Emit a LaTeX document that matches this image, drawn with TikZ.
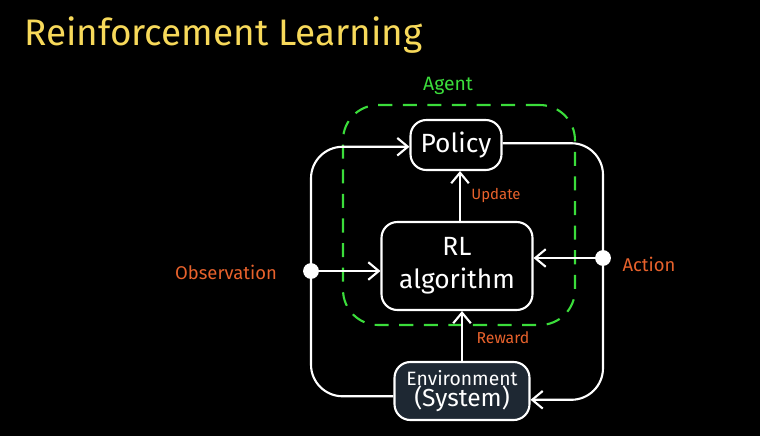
\documentclass[tikz,border=0pt]{standalone}
\usepackage{fontspec}
\setmainfont{Fira Sans}
\usepackage{xcolor}
\usetikzlibrary{arrows.meta,positioning,calc}
\definecolor{titleyellow}{HTML}{F7D95A}
\definecolor{agentgreen}{HTML}{3BDD3B}
\definecolor{labelorange}{HTML}{E8622C}
\definecolor{envfill}{HTML}{1E2833}

\begin{document}
\begin{tikzpicture}[
    x=0.02cm, y=-0.02cm,
    block/.style={draw=white,line width=1.2pt,rounded corners=9pt,text=white,align=center,inner sep=2pt},
    wire/.style={draw=white,line width=1.2pt,rounded corners=18pt},
    dot/.style={circle,fill=white,minimum size=9pt,inner sep=0pt},
    sig/.style={text=labelorange},
    >={Straight Barb[length=6pt,width=10pt,line width=1.2pt]}]
    \fill[black] (0,0) rectangle (760,436);
    \useasboundingbox (0,0) rectangle (760,436);
    \node[anchor=base west,text=titleyellow,font=\fontsize{21}{25}\selectfont] (title) at (18,45) {Reinforcement Learning};
    % agent
    \node[draw=agentgreen,dashed,dash pattern=on 8pt off 6pt,line width=1.2pt,rounded corners=20pt,
          minimum width=4.64cm,minimum height=4.4cm] (agent) at (459,215) {};
    \node[text=agentgreen,font=\fontsize{11}{13}\selectfont] (agentlbl) at (448,86) {Agent};
    % blocks
    \node[block,minimum width=1.82cm,minimum height=1.0cm,font=\fontsize{15}{18}\selectfont] (policy) at (456,145) {Policy};
    \node[block,minimum width=3.02cm,minimum height=1.76cm,font=\fontsize{15}{19}\selectfont] (algo) at (457,266) {RL\\algorithm};
    \node[block,fill=envfill,minimum width=2.7cm,minimum height=1.16cm] (env) at (462,391)
      {{\fontsize{11}{15}\selectfont Environment}\\{\fontsize{14}{16}\selectfont (System)}};
    \coordinate (obsdot) at (311,271);
    \coordinate (actdot) at (603,258);
    % loops
    \draw[wire,->] ([yshift=-3pt]env.west) -| (obsdot) |- ([yshift=-1pt]policy.west);
    \draw[wire,->] ([yshift=1pt]policy.east) -| (actdot) |- ([yshift=-5pt]env.east);
    \draw[wire,->] (obsdot) -- (obsdot -| algo.west);
    \draw[wire,->] (actdot) -- (actdot -| algo.east);
    \draw[wire,->] (algo.north -| 460,0) -- (policy.south -| 460,0);
    \draw[wire,->] (env.north) -- (algo.south -| env.north);
    \node[dot] at (obsdot) {};
    \node[dot] at (actdot) {};
    % labels
    \node[sig,font=\fontsize{10.5}{12}\selectfont] (obs) at (226,272) {Observation};
    \node[sig,font=\fontsize{10.5}{12}\selectfont] (act) at (649,264) {Action};
    \node[sig,font=\fontsize{8.5}{10}\selectfont] (upd) at (496,195) {Update};
    \node[sig,font=\fontsize{9}{11}\selectfont] (rew) at (503,338) {Reward};
\end{tikzpicture}
\end{document}
